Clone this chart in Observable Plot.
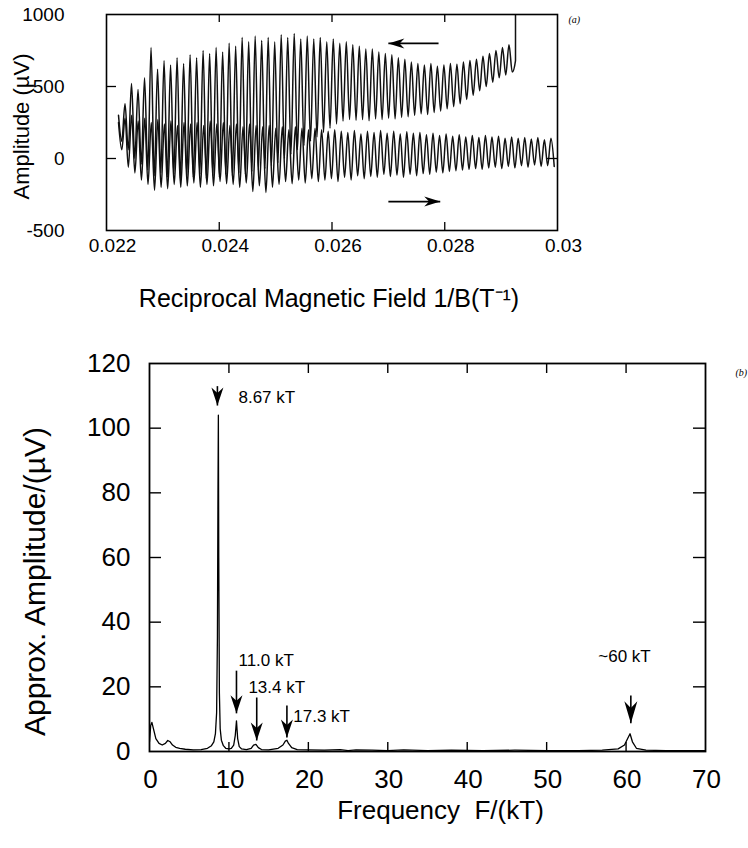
<!DOCTYPE html>
<html><head><meta charset="utf-8">
<script src="https://cdn.jsdelivr.net/npm/d3@7"></script>
<script src="https://cdn.jsdelivr.net/npm/@observablehq/plot@0.6"></script>
<style>
body{margin:0;background:#fff;}
#fig{position:relative;width:748px;height:848px;background:#fff;overflow:hidden;}
#fig svg{position:absolute;left:0;font-family:"Liberation Sans",Arial,Helvetica,sans-serif;}
#panelA text.lbl{letter-spacing:2px;}
#panelA text.ttl{letter-spacing:2.2px;}
#panelA text.ttly{letter-spacing:1.2px;}
#panelB text.lbl{letter-spacing:1.5px;}
#panelB text.ann{letter-spacing:1.5px;}
#panelB text.ttly{letter-spacing:5px;}
#panelB text.ttlx{letter-spacing:0.5px;}
</style></head><body><div id="fig"></div>
<script>
// ---------- panel (a): oscillations vs 1/B ----------
const sweepStart = 0.022213;   // 1/B where both sweeps begin (left)
const upEnd = 0.029255;        // 1/B where the "←" sweep begins (jump)
const downEnd = 0.030;         // right end of the "→" sweep
const upJump = [680, 1060];    // value before / after the jump at upEnd
// "←" sweep: peak and trough values per oscillation, left to right (µV)
const upPeaks = [300,380,520,480,560,770,620,680,650,700,660,720,700,750,730,770,740,800,780,840,810,850,820,840,810,860,840,868,830,850,830,840,810,830,800,810,790,780,760,760,740,730,720,700,690,670,660,650,660,640,650,660,655,670,680,690,710,730,750,770,790];
const upTroughs = [120,60,0,-40,-80,-120,-100,-130,-110,-140,-120,-130,-110,-140,-120,-130,-110,-120,-100,-110,-90,-80,-70,-50,-30,0,30,60,90,120,150,180,210,240,260,270,265,270,262,275,270,280,275,285,290,300,310,305,320,330,345,360,380,410,440,470,500,530,560,580,600];
// "→" sweep
const downPeaks = [250,280,300,260,280,250,270,240,260,230,250,240,250,230,260,240,250,230,240,220,240,230,220,230,210,220,200,220,210,200,210,200,190,200,190,180,195,170,190,180,195,175,190,170,185,175,180,165,175,160,170,155,165,150,160,145,160,150,155,140,150,140,145,135,145,130,140];
const downTroughs = [60,-60,-100,-150,-180,-220,-200,-210,-180,-200,-190,-170,-200,-180,-190,-160,-175,-180,-200,-170,-230,-190,-236,-200,-180,-160,-175,-150,-170,-140,-160,-150,-140,-160,-130,-150,-120,-140,-125,-130,-110,-125,-115,-130,-110,-120,-105,-110,-95,-100,-90,-85,-80,-75,-70,-75,-65,-60,-70,-55,-65,-50,-60,-45,-55,-50,-55];
const topXTicks = [0.022, 0.024, 0.026, 0.028, 0.03];
const topXLabels = ["0.022", "0.024", "0.026", "0.028", "0.03"];
const topYTicks = [-500, 0, 500, 1000];
const topYLabels = ["-500", "0", "500", "1000"];
const topXInner = [0.024, 0.026, 0.028];
const topYInner = [0, 500];
// sweep direction arrows [tailX, tipX, y]
const sweepArrows = [[0.02789, 0.02700, 799], [0.02700, 0.02792, -299]];

// ---------- panel (b): spectrum ----------
const spectrum = [[0,3],[0.15,8],[0.3,9],[0.5,7],[0.8,4],[1.2,2.5],[1.6,2],[2.0,2.5],[2.3,3.4],[2.6,3],[2.9,2],[3.3,1.3],[3.8,1],[4.5,0.7],[5.5,0.5],[6.5,0.6],[7.3,1],[7.8,1.8],[8.1,3],[8.3,5.5],[8.45,12],[8.55,35],[8.62,80],[8.67,104],[8.72,60],[8.8,18],[8.9,7],[9.05,3.5],[9.3,1.8],[9.6,1],[10.0,0.8],[10.3,1],[10.6,2],[10.8,5],[10.95,9.5],[11.1,4],[11.3,1.5],[11.6,0.8],[12.2,0.6],[12.8,1],[13.1,2],[13.4,2.2],[13.7,1.2],[14.1,0.6],[15.0,0.5],[16.2,1],[16.8,2],[17.1,3.2],[17.3,3.5],[17.5,2.5],[17.9,1.2],[18.6,0.6],[20,0.5],[22,0.4],[24,0.6],[25,0.3],[26,0.5],[28,0.4],[30,0.3],[32,0.5],[35,0.3],[38,0.4],[42,0.3],[46,0.4],[50,0.3],[54,0.3],[57,0.4],[59,0.8],[59.8,2],[60.2,4],[60.5,5.5],[60.8,3],[61.3,1],[62.5,0.4],[65,0.3],[68,0.3],[70,0.3]];
const annLabels = ["8.67 kT", "11.0 kT", "13.4 kT", "17.3 kT", "~60 kT"];
const annLabelF = [11.2, 11.2, 12.45, 18.1, 56.5];
const annLabelA = [109.5, 28.1, 19.8, 10.8, 29.3];
const annArrowF = [8.55, 10.95, 13.5, 17.3, 60.6];
const annArrowTop = [113, 25, 16.7, 14.2, 17.3];
const annArrowTip = [107, 11.8, 3.4, 4.3, 8.7];
const botXTicks = [0, 10, 20, 30, 40, 50, 60, 70];
const botYTicks = [0, 20, 40, 60, 80, 100, 120];
const botXInner = [10, 20, 30, 40, 50, 60];
const botYInner = [20, 40, 60, 80, 100];

// ---------- helpers ----------
function trace(start, end, peaks, troughs) {
  const n = peaks.length, P = (end - start) / n, pts = [];
  for (let i = 0; i < n; i++) {
    pts.push({x: start + i * P, y: peaks[i]});
    pts.push({x: start + (i + 0.5) * P, y: troughs[i]});
  }
  return pts;
}
function dart(L, W, dir) {
  return {draw(c) {
    if (dir === "down") { c.moveTo(0,0); c.lineTo(-W/2,-L); c.lineTo(0,-0.7*L); c.lineTo(W/2,-L); }
    else if (dir === "left") { c.moveTo(0,0); c.lineTo(L,-W/2); c.lineTo(0.7*L,0); c.lineTo(L,W/2); }
    else { c.moveTo(0,0); c.lineTo(-L,-W/2); c.lineTo(-0.7*L,0); c.lineTo(-L,W/2); }
    c.closePath();
  }};
}

const upData = trace(sweepStart, upEnd, upPeaks, upTroughs);
upData.push({x: upEnd, y: upJump[0]}, {x: upEnd, y: upJump[1]});
const downData = trace(sweepStart, downEnd, downPeaks, downTroughs);

// ---------- panel (a) ----------
const tW = 748, tH = 320, tMT = 14, tMB = 90, tML = 106, tMR = 191;
const tFH = tH - tMT - tMB, tFW = tW - tML - tMR;
const plotA = Plot.plot({
  width: tW, height: tH, marginTop: tMT, marginBottom: tMB, marginLeft: tML, marginRight: tMR,
  x: {domain: [0.022, 0.03], axis: null},
  y: {domain: [-500, 1000], axis: null},
  marks: [
    Plot.line(upData, {x: "x", y: "y", stroke: "#111", strokeWidth: 1.5, curve: "monotone-x", clip: true}),
    Plot.line(downData, {x: "x", y: "y", stroke: "#111", strokeWidth: 1.5, curve: "monotone-x", clip: true}),
    Plot.frame({stroke: "#000", strokeWidth: 1.6}),
    Plot.tickX(topXInner, {x: d => d, insetTop: tFH - 8, strokeWidth: 1.3}),
    Plot.tickX(topXInner, {x: d => d, insetBottom: tFH - 8, strokeWidth: 1.3}),
    Plot.tickY(topYInner, {y: d => d, insetRight: tFW - 10, strokeWidth: 1.3}),
    Plot.tickY(topYInner, {y: d => d, insetLeft: tFW - 10, strokeWidth: 1.3}),
    Plot.link(sweepArrows, {x1: d => d[0], x2: d => d[1], y1: d => d[2], y2: d => d[2], stroke: "#000", strokeWidth: 1.8}),
    Plot.dot([sweepArrows[0]], {x: d => d[1], y: d => d[2], symbol: dart(16, 10, "left"), fill: "#000", stroke: "none"}),
    Plot.dot([sweepArrows[1]], {x: d => d[1], y: d => d[2], symbol: dart(16, 10, "right"), fill: "#000", stroke: "none"}),
    Plot.text(topXTicks, {x: d => d, text: (d, i) => topXLabels[i], frameAnchor: "bottom", lineAnchor: "middle", textAnchor: "middle", dy: 15, dx: 6, fontSize: 19, className: "lbl"}),
    Plot.text(topYTicks, {y: d => d, text: (d, i) => topYLabels[i], frameAnchor: "left", lineAnchor: "middle", textAnchor: "end", dx: -42, fontSize: 19, className: "lbl"}),
    Plot.text(["Reciprocal Magnetic Field 1/B(T⁻¹)"], {text: d => d, frameAnchor: "bottom", lineAnchor: "middle", textAnchor: "middle", dy: 68, dx: -3, fontSize: 25, className: "ttl"}),
    Plot.text(["Amplitude (µV)"], {text: d => d, frameAnchor: "left", lineAnchor: "middle", textAnchor: "middle", dx: -85, dy: 4, rotate: -90, fontSize: 22, className: "ttly"}),
    Plot.text(["(a)"], {text: d => d, frameAnchor: "top-right", lineAnchor: "middle", textAnchor: "start", dx: 11, dy: 5, fontSize: 10, fontStyle: "italic", fontFamily: "Liberation Serif"})
  ]
});
plotA.id = "panelA";
plotA.style.top = "0px";

// ---------- panel (b) ----------
const bW = 748, bH = 500, bMT = 33, bMB = 79, bML = 149, bMR = 43;
const bFH = bH - bMT - bMB, bFW = bW - bML - bMR;
const plotB = Plot.plot({
  width: bW, height: bH, marginTop: bMT, marginBottom: bMB, marginLeft: bML, marginRight: bMR,
  x: {domain: [0, 70], axis: null},
  y: {domain: [0, 120], axis: null},
  marks: [
    Plot.line(spectrum, {x: d => d[0], y: d => d[1], stroke: "#000", strokeWidth: 1.3, clip: true}),
    Plot.frame({stroke: "#000", strokeWidth: 1.8}),
    Plot.tickX(botXInner, {x: d => d, insetTop: bFH - 9, strokeWidth: 1.4}),
    Plot.tickX(botXInner, {x: d => d, insetBottom: bFH - 10, strokeWidth: 1.4}),
    Plot.tickY(botYInner, {y: d => d, insetRight: bFW - 12, strokeWidth: 1.4}),
    Plot.tickY(botYInner, {y: d => d, insetLeft: bFW - 12, strokeWidth: 1.4}),
    Plot.link(annArrowF, {x1: d => d, x2: d => d, y1: (d, i) => annArrowTop[i], y2: (d, i) => annArrowTip[i], stroke: "#000", strokeWidth: 1.6}),
    Plot.dot(annArrowF.slice(0, 4), {x: d => d, y: (d, i) => annArrowTip[i], symbol: dart(18, 12, "down"), fill: "#000", stroke: "none"}),
    Plot.dot(annArrowF.slice(4), {x: d => d, y: (d, i) => annArrowTip[i + 4], symbol: dart(22, 13, "down"), fill: "#000", stroke: "none"}),
    Plot.text(annLabels, {x: (d, i) => annLabelF[i], y: (d, i) => annLabelA[i], text: d => d, textAnchor: "start", lineAnchor: "middle", fontSize: 17, className: "ann"}),
    Plot.text(botXTicks, {x: d => d, text: d => String(d), frameAnchor: "bottom", lineAnchor: "middle", textAnchor: "middle", dy: 28, dx: 1, fontSize: 26, className: "lbl"}),
    Plot.text(botYTicks, {y: d => d, text: d => String(d), frameAnchor: "left", lineAnchor: "middle", textAnchor: "end", dx: -19, fontSize: 26, className: "lbl"}),
    Plot.text(["Frequency  F/(kT)"], {text: d => d, frameAnchor: "bottom", lineAnchor: "middle", textAnchor: "middle", dy: 59, dx: 13, fontSize: 26, className: "ttlx"}),
    Plot.text(["Approx. Amplitude/(µV)"], {text: d => d, frameAnchor: "left", lineAnchor: "middle", textAnchor: "middle", dx: -114, dy: 24, rotate: -90, fontSize: 30, className: "ttly"}),
    Plot.text(["(b)"], {text: d => d, frameAnchor: "top-right", lineAnchor: "middle", textAnchor: "start", dx: 30, dy: 9, fontSize: 10, fontStyle: "italic", fontFamily: "Liberation Serif"})
  ]
});
plotB.id = "panelB";
plotB.style.top = "330px";

const fig = document.getElementById("fig");
fig.appendChild(plotA);
fig.appendChild(plotB);
</script></body></html>
